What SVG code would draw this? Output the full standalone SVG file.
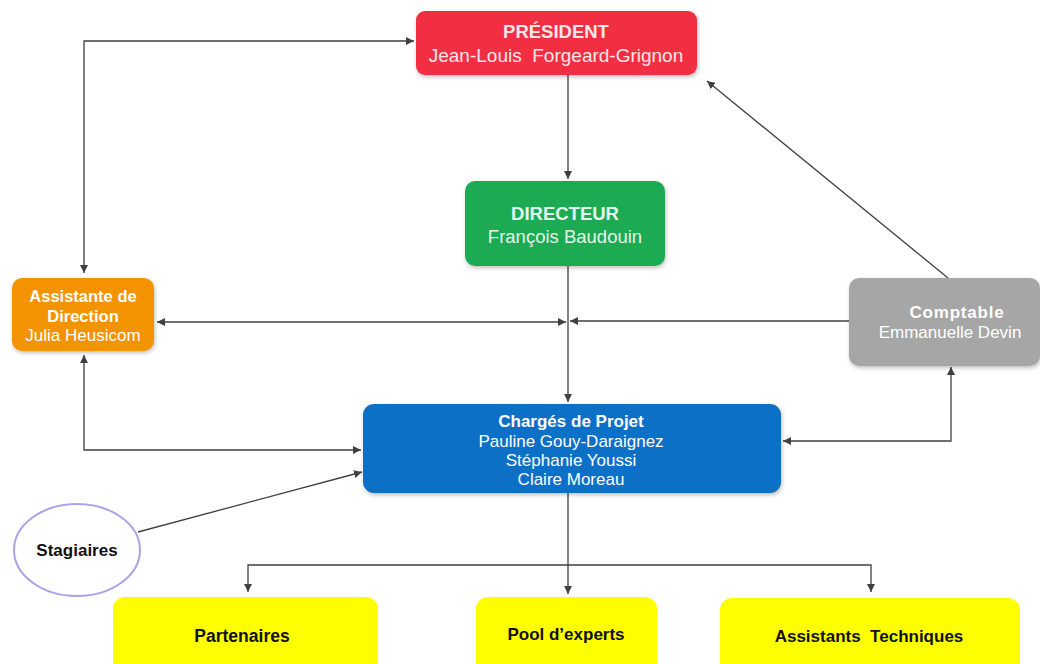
<svg xmlns="http://www.w3.org/2000/svg" width="1040" height="664" viewBox="0 0 1040 664">
<defs>
<marker id="ah" viewBox="0 0 10 10" refX="10" refY="5" markerWidth="8" markerHeight="8" markerUnits="userSpaceOnUse" orient="auto-start-reverse">
<path d="M0,0 L10,5 L0,10 z" fill="#404040"/>
</marker>
<filter id="sh" x="-10%" y="-10%" width="120%" height="130%">
<feDropShadow dx="1" dy="2" stdDeviation="2" flood-color="#000" flood-opacity="0.25"/>
</filter>
</defs>
<style>
text{font-family:"Liberation Sans",Arial,sans-serif;text-anchor:middle}
.b{font-weight:bold}
.w{fill:#ffffff}
.k{fill:#111111}
.c{fill:none;stroke:#404040;stroke-width:1.3}
.box{filter:url(#sh)}
</style>
<rect width="1040" height="664" fill="#ffffff"/>
<g id="connectors">
<path class="c" d="M84,273 V41 H414" marker-start="url(#ah)" marker-end="url(#ah)"/>
<path class="c" d="M568,75 V179" marker-end="url(#ah)"/>
<path class="c" d="M568,266 V402" marker-end="url(#ah)"/>
<path class="c" d="M157,322 H566" marker-start="url(#ah)" marker-end="url(#ah)"/>
<path class="c" d="M849,321 H570" marker-end="url(#ah)"/>
<path class="c" d="M948,278 L707,81" marker-end="url(#ah)"/>
<path class="c" d="M84,355 V450 H361" marker-start="url(#ah)" marker-end="url(#ah)"/>
<path class="c" d="M783,441 H951 V367" marker-start="url(#ah)" marker-end="url(#ah)"/>
<path class="c" d="M138,532 L362,472" marker-end="url(#ah)"/>
<path class="c" d="M568,493 V594" marker-end="url(#ah)"/>
<path class="c" d="M248,592 V565 H871 V592" marker-start="url(#ah)" marker-end="url(#ah)"/>
</g>
<g id="president">
<rect class="box" x="416" y="11" width="281" height="64" rx="9" fill="#f12d43"/>
<text x="556" y="38" class="b" font-size="18.5" fill="#fde6e8">PRÉSIDENT</text>
<text x="556" y="62" font-size="19" fill="#fde6e8" xml:space="preserve">Jean-Louis  Forgeard-Grignon</text>
</g>
<g id="directeur">
<rect class="box" x="465" y="181" width="200" height="85" rx="10" fill="#1aab52"/>
<text x="565" y="220" class="b" font-size="18.5" fill="#e3f7ea">DIRECTEUR</text>
<text x="565" y="243" font-size="18.5" fill="#e3f7ea">François Baudouin</text>
</g>
<g id="assistante">
<rect class="box" x="12" y="278" width="142" height="73" rx="10" fill="#f49300"/>
<text x="83" y="302" class="b w" font-size="16.5" xml:space="preserve">Assistante de</text>
<text x="83" y="322" class="b w" font-size="16.5">Direction</text>
<text x="83" y="341" class="w" font-size="17">Julia Heusicom</text>
</g>
<g id="comptable">
<rect class="box" x="849" y="278" width="191" height="88" rx="10" fill="#a6a6a6"/>
<text x="957" y="318" class="b w" font-size="17" letter-spacing="0.8">Comptable</text>
<text x="950" y="338" class="w" font-size="17">Emmanuelle Devin</text>
</g>
<g id="charges">
<rect class="box" x="363" y="404" width="418" height="89" rx="11" fill="#0b6fc7"/>
<text x="571" y="427" class="b w" font-size="17">Chargés de Projet</text>
<text x="571" y="447" class="w" font-size="17">Pauline Gouy-Daraignez</text>
<text x="571" y="466" class="w" font-size="17">Stéphanie Youssi</text>
<text x="571" y="485" class="w" font-size="17">Claire Moreau</text>
</g>
<g id="stagiaires">
<ellipse cx="77" cy="550" rx="63" ry="46" fill="#ffffff" stroke="#a9a2e8" stroke-width="2"/>
<text x="77" y="556" class="b k" font-size="17">Stagiaires</text>
</g>
<g id="partenaires">
<rect x="113" y="597" width="265" height="80" rx="12" fill="#ffff00"/>
<text x="242" y="642" class="b k" font-size="17.5">Partenaires</text>
</g>
<g id="pool">
<rect x="476" y="597" width="181" height="80" rx="12" fill="#ffff00"/>
<text x="566" y="640" class="b k" font-size="17">Pool d’experts</text>
</g>
<g id="assistants">
<rect x="720" y="598" width="300" height="80" rx="12" fill="#ffff00"/>
<text x="869" y="642" class="b k" font-size="17" xml:space="preserve">Assistants  Techniques</text>
</g>
</svg>
